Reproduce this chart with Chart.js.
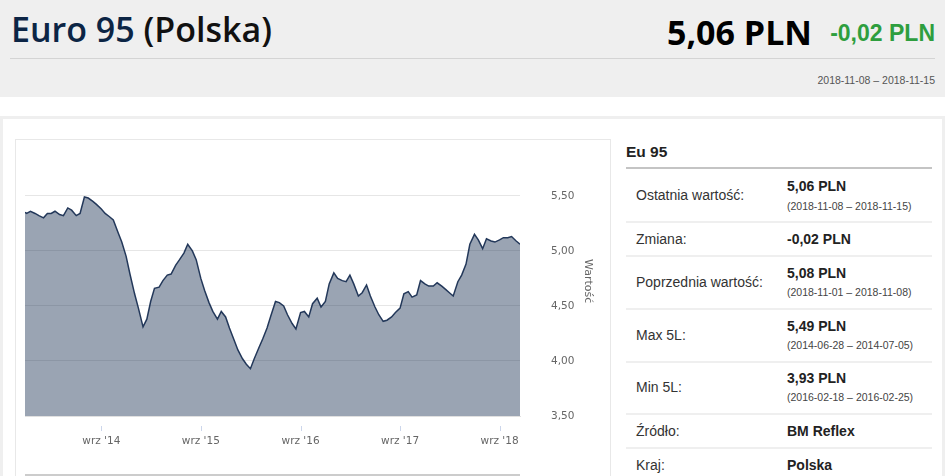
<!DOCTYPE html>
<html lang="pl">
<head>
<meta charset="utf-8">
<script src="https://cdn.jsdelivr.net/npm/chart.js@4.4.1/dist/chart.umd.min.js"></script>
<style>
  html, body { margin: 0; padding: 0; }
  body { width: 945px; height: 476px; overflow: hidden; position: relative; background: #fff; font-family: "Liberation Sans", Arial, sans-serif; }
  .abs { position: absolute; white-space: nowrap; line-height: 1; }
  #header { position: absolute; left: 0; top: 0; width: 945px; height: 97px; background: #efefef; }
  #title { left: 11px; top: 12px; font-family: "Open Sans", sans-serif; font-weight: 600; font-size: 34px; color: #111; }
  #title .name { color: #0c2545; }
  #hline { position: absolute; left: 10px; top: 58px; width: 925px; height: 1px; background: #d4d4d4; }
  #price { right: 133px; top: 15px; font-family: "Open Sans", sans-serif; font-weight: 700; font-size: 34px; color: #000; }
  #change { right: 10px; top: 22px; font-weight: 700; font-size: 23px; color: #2e9e3e; }
  #period { right: 10px; top: 75px; font-size: 10.5px; color: #555; }
  #panel { position: absolute; left: 0; top: 116px; width: 945px; height: 400px; box-sizing: border-box; border: 3px solid #efefef; }
  #chartBox { position: absolute; left: 15px; top: 139px; width: 596px; height: 400px; box-sizing: border-box; border: 1px solid #e8e8e8; }
  #chartWrap { position: absolute; left: 15px; top: 139px; width: 595px; height: 337px; }
  #navLine { position: absolute; left: 25px; top: 474px; width: 495px; height: 2px; background: #cccccc; }
  .tt { font-size: 15.5px; font-weight: 700; color: #222; }
  .lab { font-size: 14px; color: #333; }
  .val { font-size: 14px; font-weight: 700; color: #222; }
  .sub { font-size: 10.5px; color: #444; }
  .sep { position: absolute; left: 626px; width: 306px; height: 2px; background: #efefef; }
</style>
</head>
<body>
<div id="header"></div>
<div id="hline"></div>
<div id="title" class="abs"><span class="name">Euro 95</span> (Polska)</div>
<div id="price" class="abs">5,06 PLN</div>
<div id="change" class="abs">-0,02 PLN</div>
<div id="period" class="abs">2018-11-08 – 2018-11-15</div>

<div id="panel"></div>
<div id="chartBox"></div>
<div id="chartWrap"><canvas id="myChart"></canvas></div>
<div id="navLine"></div>

<div class="abs tt" style="left:626px;top:144px;">Eu 95</div>
<div style="position:absolute;left:626px;top:167px;width:306px;height:2px;background:#c4c4c4;"></div>

<div class="abs lab" style="left:636px;top:188px;">Ostatnia wartość:</div>
<div class="abs val" style="left:787px;top:179px;">5,06 PLN</div>
<div class="abs sub" style="left:787px;top:201px;">(2018-11-08 – 2018-11-15)</div>
<div class="sep" style="top:221px;"></div>

<div class="abs lab" style="left:636px;top:232px;">Zmiana:</div>
<div class="abs val" style="left:787px;top:232px;">-0,02 PLN</div>
<div class="sep" style="top:255px;"></div>

<div class="abs lab" style="left:636px;top:275px;">Poprzednia wartość:</div>
<div class="abs val" style="left:787px;top:266px;">5,08 PLN</div>
<div class="abs sub" style="left:787px;top:287px;">(2018-11-01 – 2018-11-08)</div>
<div class="sep" style="top:308px;"></div>

<div class="abs lab" style="left:636px;top:328px;">Max 5L:</div>
<div class="abs val" style="left:787px;top:319px;">5,49 PLN</div>
<div class="abs sub" style="left:787px;top:340px;">(2014-06-28 – 2014-07-05)</div>
<div class="sep" style="top:361px;"></div>

<div class="abs lab" style="left:636px;top:380px;">Min 5L:</div>
<div class="abs val" style="left:787px;top:371px;">3,93 PLN</div>
<div class="abs sub" style="left:787px;top:392px;">(2016-02-18 – 2016-02-25)</div>
<div class="sep" style="top:413px;"></div>

<div class="abs lab" style="left:636px;top:424px;">Źródło:</div>
<div class="abs val" style="left:787px;top:424px;">BM Reflex</div>
<div class="sep" style="top:447px;"></div>

<div class="abs lab" style="left:636px;top:458px;">Kraj:</div>
<div class="abs val" style="left:787px;top:458px;">Polska</div>

<script>
// weekly price of Euro 95 (PLN)
const dates = [
  '2013-11-25','2013-12-01','2013-12-15',
  '2014-01-01','2014-01-15','2014-02-01','2014-02-15','2014-03-01','2014-03-15','2014-04-01','2014-04-15','2014-05-01','2014-05-15','2014-06-01','2014-06-15','2014-07-01','2014-07-15','2014-08-01','2014-08-15','2014-09-01','2014-09-15','2014-10-01','2014-10-15','2014-11-01','2014-11-15','2014-12-01','2014-12-15',
  '2015-01-01','2015-01-15','2015-02-01','2015-02-15','2015-03-01','2015-03-15','2015-04-01','2015-04-15','2015-05-01','2015-05-15','2015-06-01','2015-06-15','2015-07-01','2015-07-15','2015-08-01','2015-08-15','2015-09-01','2015-09-15','2015-10-01','2015-10-15','2015-11-01','2015-11-15','2015-12-01','2015-12-15',
  '2016-01-01','2016-01-15','2016-02-01','2016-02-15','2016-03-01','2016-03-15','2016-04-01','2016-04-15','2016-05-01','2016-05-15','2016-06-01','2016-06-15','2016-07-01','2016-07-15','2016-08-01','2016-08-15','2016-09-01','2016-09-15','2016-10-01','2016-10-15','2016-11-01','2016-11-15','2016-12-01','2016-12-15',
  '2017-01-01','2017-01-15','2017-02-01','2017-02-15','2017-03-01','2017-03-15','2017-04-01','2017-04-15','2017-05-01','2017-05-15','2017-06-01','2017-06-15','2017-07-01','2017-07-15','2017-08-01','2017-08-15','2017-09-01','2017-09-15','2017-10-01','2017-10-15','2017-11-01','2017-11-15','2017-12-01','2017-12-15',
  '2018-01-01','2018-01-15','2018-02-01','2018-02-15','2018-03-01','2018-03-15','2018-04-01','2018-04-15','2018-05-01','2018-05-15','2018-06-01','2018-06-15','2018-07-01','2018-07-15','2018-08-01','2018-08-15','2018-09-01','2018-09-15','2018-10-01','2018-10-15','2018-11-01','2018-11-15'
];
const prices = [
  5.35,5.34,5.36,
  5.34,5.32,5.30,5.34,5.34,5.36,5.33,5.32,5.39,5.37,5.32,5.34,5.49,5.48,5.45,5.42,5.38,5.34,5.31,5.28,5.17,5.08,4.95,4.79,
  4.61,4.48,4.31,4.38,4.54,4.66,4.67,4.73,4.78,4.79,4.87,4.92,4.98,5.06,5.00,4.92,4.75,4.64,4.53,4.45,4.38,4.45,4.40,4.30,
  4.19,4.10,4.02,3.97,3.93,4.02,4.12,4.20,4.30,4.41,4.54,4.53,4.50,4.42,4.34,4.29,4.44,4.45,4.40,4.52,4.57,4.49,4.54,4.70,
  4.80,4.75,4.73,4.72,4.78,4.70,4.59,4.62,4.69,4.59,4.49,4.42,4.36,4.37,4.40,4.44,4.48,4.61,4.63,4.58,4.60,4.73,4.70,4.68,
  4.68,4.71,4.68,4.65,4.62,4.59,4.72,4.78,4.88,5.06,5.15,5.10,5.02,5.11,5.09,5.08,5.10,5.12,5.12,5.13,5.09,5.06
];
// x axis ticks (1 September each year)
const tickDates = ['2014-09-01','2015-09-01','2016-09-01','2017-09-01','2018-09-01'];
const tickLabels = ["wrz '14","wrz '15","wrz '16","wrz '17","wrz '18"];
const yTicks = [3.5, 4.0, 4.5, 5.0, 5.5];

const ts = d => new Date(d + 'T00:00:00Z').getTime();
const points = dates.map((d, i) => ({x: ts(d), y: prices[i]}));
const tickTs = tickDates.map(ts);

// small detached tick marks under the x axis
const tickMarks = {
  id: 'tickMarks',
  afterDraw(chart) {
    const ctx = chart.ctx, xs = chart.scales.x, b = chart.chartArea.bottom;
    ctx.save();
    ctx.strokeStyle = '#ccd6eb';
    ctx.lineWidth = 1;
    tickTs.forEach(t => {
      const px = Math.round(xs.getPixelForValue(t)) + 0.5;
      ctx.beginPath();
      ctx.moveTo(px, b + 10);
      ctx.lineTo(px, b + 15);
      ctx.stroke();
    });
    ctx.restore();
  }
};

const chart = document.getElementById('myChart');
new Chart(chart, {
  type: 'line',
  data: {
    datasets: [{
      label: 'Eu 95',
      data: points,
      borderColor: '#23385a',
      backgroundColor: 'rgba(35,56,90,0.46)',
      borderWidth: 1.5,
      pointRadius: 0,
      tension: 0,
      fill: 'start'
    }]
  },
  options: {
    responsive: true,
    maintainAspectRatio: false,
    animation: false,
    layout: { padding: { left: 10, right: 16, top: 2, bottom: 28 } },
    plugins: { legend: { display: false }, tooltip: { enabled: false } },
    scales: {
      x: {
        type: 'linear',
        min: ts(dates[0]),
        max: ts(dates[dates.length - 1]),
        grid: { display: false, drawTicks: false },
        border: { display: true, color: '#e0e0e0', width: 1 },
        afterBuildTicks: scale => { scale.ticks = tickTs.map(v => ({value: v})); },
        afterFit: scale => { scale.height = 32; },
        ticks: {
          autoSkip: false,
          maxRotation: 0,
          padding: 19,
          color: '#666',
          font: { family: 'DejaVu Sans', size: 10.5 },
          callback: (v) => tickLabels[tickTs.indexOf(v)]
        }
      },
      y: {
        position: 'right',
        min: 3.5,
        max: 5.95,
        afterBuildTicks: scale => { scale.ticks = yTicks.map(v => ({value: v})); },
        afterFit: scale => { scale.width = 74; },
        // invisible tick lines push the labels away from the plot
        grid: { color: '#e6e6e6', lineWidth: 1, drawTicks: true, tickLength: 30, tickColor: 'rgba(0,0,0,0)' },
        border: { display: false },
        ticks: {
          padding: 1,
          color: '#666',
          font: { family: 'DejaVu Sans', size: 10.5 },
          callback: v => v.toFixed(2).replace('.', ',')
        },
        title: {
          display: true,
          text: 'Wartość',
          color: '#666',
          font: { family: 'DejaVu Sans', size: 11 },
          padding: { top: 0, bottom: 0 }
        }
      }
    }
  },
  plugins: [tickMarks]
});
</script>
</body>
</html>
